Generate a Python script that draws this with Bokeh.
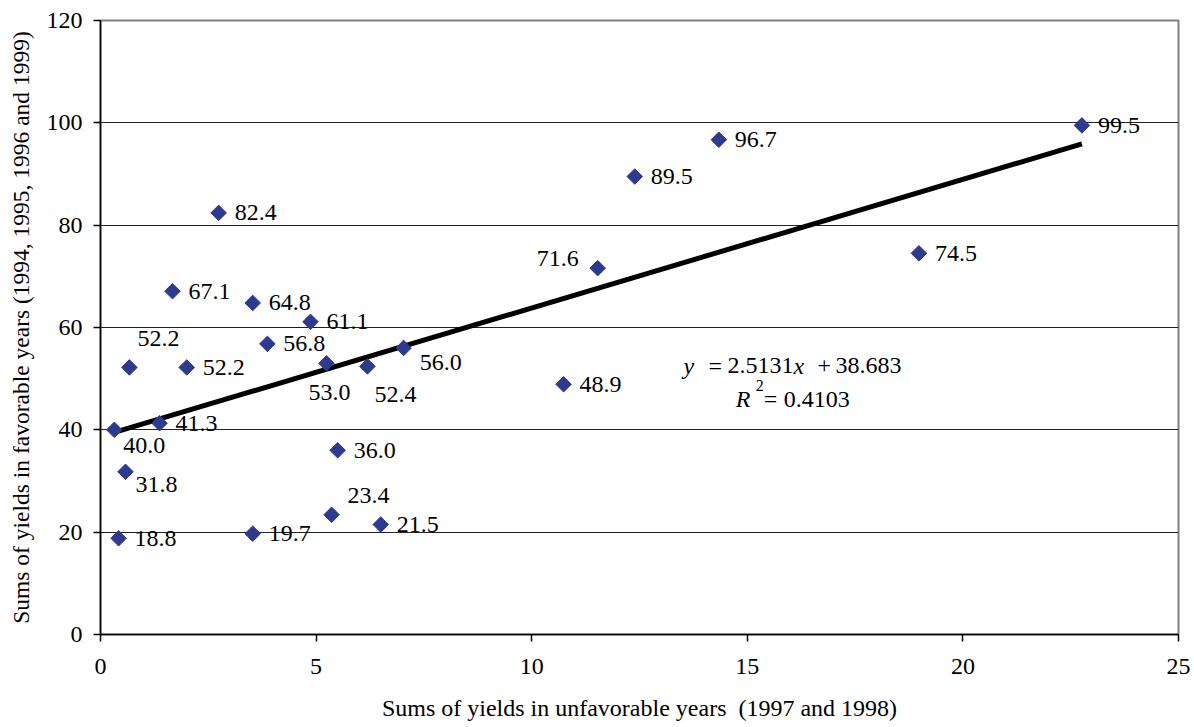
import numpy as np
from bokeh.plotting import figure
from bokeh.models import ColumnDataSource, Range1d, FixedTicker, Label
from bokeh.embed import file_html
from bokeh.resources import INLINE
from bokeh.core.properties import value

# Data
x_unfav = [22.76, 14.34, 12.39, 2.74, 18.98, 11.53, 1.67, 3.53, 4.87, 3.87, 7.03, 5.24,
           6.19, 0.67, 2.00, 10.74, 1.37, 0.32, 5.50, 0.58, 5.36, 6.50, 3.53, 0.42]
y_fav = [99.5, 96.7, 89.5, 82.4, 74.5, 71.6, 67.1, 64.8, 61.1, 56.8, 56.0, 53.0,
         52.4, 52.2, 52.2, 48.9, 41.3, 40.0, 36.0, 31.8, 23.4, 21.5, 19.7, 18.8]
label_text = ["%.1f" % v for v in y_fav]
placement = ["r", "r", "r", "r", "r", "ul", "r", "r", "r", "r", "dr", "d",
             "dr2", "ur", "r", "r", "r", "br", "r", "br2", "ur2", "r", "r", "r"]

slope = 2.5131
intercept = 38.683
r2 = 0.4103
x_ticks = [0, 5, 10, 15, 20, 25]
y_ticks = [0, 20, 40, 60, 80, 100, 120]

# label placement styles: (x_offset, y_offset, align)
styles = {
    "r": (16, 0, "left"),
    "ur": (8, -29, "left"),
    "ur2": (16, -19, "left"),
    "ul": (-19, -10, "right"),
    "br": (9, 16, "left"),
    "br2": (10, 13, "left"),
    "d": (3, 29, "center"),
    "dr": (16, 15, "left"),
    "dr2": (7, 28, "left"),
}

FONT = "Liberation Serif"
FS = "24px"

p = figure(width=1194, height=727, output_backend="svg", toolbar_location=None,
           x_range=Range1d(0, 25), y_range=Range1d(0, 120),
           min_border_left=100, min_border_right=16, min_border_top=20, min_border_bottom=93)

p.background_fill_color = "white"
p.border_fill_color = "white"
p.outline_line_color = "#808080"
p.outline_line_width = 2

p.xgrid.grid_line_color = None
p.ygrid.grid_line_color = "#222222"
p.ygrid.grid_line_width = 1

for ax in (p.xaxis[0], p.yaxis[0]):
    ax.axis_line_color = "black"
    ax.axis_line_width = 1.5
    ax.major_tick_line_color = "black"
    ax.major_tick_line_width = 1.5
    ax.major_tick_out = 7
    ax.major_tick_in = 0
    ax.minor_tick_line_color = None
    ax.major_label_text_font = FONT
    ax.major_label_text_font_size = FS
    ax.major_label_text_color = "black"
    ax.axis_label_text_font = FONT
    ax.axis_label_text_font_style = "normal"
    ax.axis_label_text_color = "black"

p.xaxis.axis_label_text_font_size = "24px"
p.yaxis.axis_label_text_font_size = "23.5px"
p.xaxis.ticker = FixedTicker(ticks=x_ticks)
p.yaxis.ticker = FixedTicker(ticks=y_ticks)
p.xaxis.major_label_standoff = 17
p.yaxis.major_label_standoff = 11
p.xaxis.axis_label = "Sums of yields in unfavorable years\u00a0 (1997 and 1998)"
p.yaxis.axis_label = "Sums of yields in favorable years (1994, 1995, 1996 and 1999)"
p.xaxis.axis_label_standoff = 18
p.yaxis.axis_label_standoff = 10

# trendline
xs = np.array([min(x_unfav), max(x_unfav)])
p.line(xs, slope * xs + intercept, line_color="black", line_width=5)

src = ColumnDataSource(dict(
    x=x_unfav, y=y_fav, t=label_text,
    dx=[styles[s][0] for s in placement],
    dy=[styles[s][1] for s in placement],
    al=[styles[s][2] for s in placement],
))
p.scatter("x", "y", source=src, marker="square", angle=np.pi / 4, size=11,
          fill_color="#2E3A8F", line_color="#2E3A8F")
p.text("x", "y", text="t", source=src, x_offset="dx", y_offset="dy", text_align="al",
       text_baseline="middle", text_font=value(FONT), text_font_size=FS, text_color="black")

# equation annotation
eq_x, eq_y = 13.52, 52.57
parts = [("y", "italic", 0), ("=", "normal", 25), ("%.4f" % slope, "normal", 44),
         ("x", "italic", 110), ("+", "normal", 134), ("%.3f" % intercept, "normal", 152)]
for txt, style, off in parts:
    p.add_layout(Label(x=eq_x, y=eq_y, x_offset=off, text=txt, text_font=FONT, text_font_size=FS,
                       text_font_style=style, text_baseline="middle", text_color="black"))
r_x, r_y = 14.73, 45.93
parts2 = [("R", "italic", 0, 0, FS), ("2", "normal", 20, 14, "16px"),
          ("=", "normal", 28, 0, FS), ("%.4f" % r2, "normal", 48, 0, FS)]
for txt, style, off, yo, fs in parts2:
    p.add_layout(Label(x=r_x, y=r_y, x_offset=off, y_offset=yo, text=txt, text_font=FONT, text_font_size=fs,
                       text_font_style=style, text_baseline="middle", text_color="black"))

open("out.html", "w").write(file_html(p, INLINE))
